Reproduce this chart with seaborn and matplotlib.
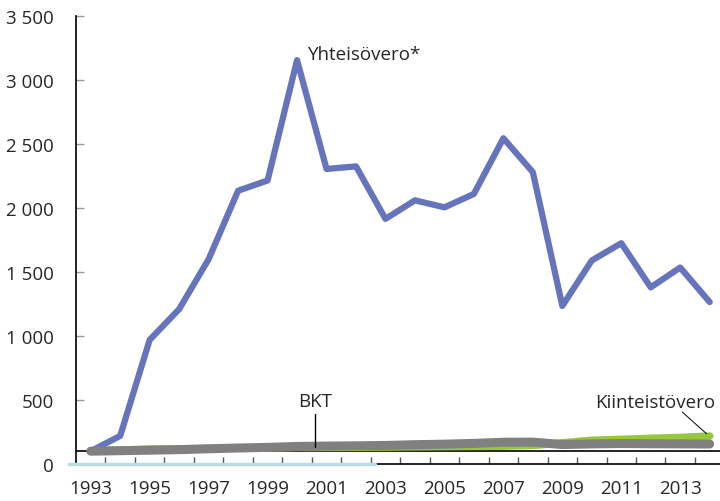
import numpy as np
import pandas as pd
import matplotlib.pyplot as plt
import seaborn as sns

years = list(range(1993, 2015))
yhteisovero = [100, 220, 970, 1210, 1600, 2135, 2215, 3155, 2305, 2325, 1915, 2060,
               2005, 2110, 2545, 2280, 1235, 1590, 1725, 1380, 1535, 1265]
bkt = [100, 104, 108, 112, 119, 125, 130, 137, 140, 142, 145, 151,
       155, 161, 170, 171, 152, 157, 160, 158, 157, 156]
kiinteistovero = [100, 108, 116, 118, 121, 124, 127, 130, 130, 131, 133, 135,
                  137, 138, 140, 145, 165, 185, 192, 200, 207, 218]

df = pd.DataFrame({'vuosi': years, 'Yhteisövero': yhteisovero,
                   'BKT': bkt, 'Kiinteistövero': kiinteistovero})

sns.set_style('white')
plt.rcParams['font.family'] = ['Open Sans', 'DejaVu Sans']
fs = 13.5

fig = plt.figure(figsize=(7.2, 5.02), dpi=100)
ax = fig.add_axes([76 / 720, 1 - 465 / 502, 1 - 76 / 720, (465 - 17) / 502])

sns.lineplot(x='vuosi', y='Yhteisövero', data=df, ax=ax, color='#6674bb', lw=4.5)
sns.lineplot(x='vuosi', y='Kiinteistövero', data=df, ax=ax, color='#97c83b', lw=5.5)
sns.lineplot(x='vuosi', y='BKT', data=df, ax=ax, color='#808080', lw=6.5,
             solid_capstyle='round')

ax.set_xlim(1992.5, 2014.35)
ax.set_ylim(0, 3500)
ax.set_xlabel('')
ax.set_ylabel('')

# index 100 line
ax.axhline(100, color='black', lw=1.2, zorder=1)

# y axis
ax.set_yticks(np.arange(0, 3501, 500))
ax.set_yticklabels([f'{v:,}'.replace(',', ' ') for v in range(0, 3501, 500)], fontsize=fs)
ax.tick_params(axis='y', direction='in', length=6, width=1, color='#999999', pad=16,
               left=True)

# x axis: labels every 2 years, tick marks between years
ax.set_xticks(years[::2])
ax.set_xticklabels([str(y) for y in years[::2]], fontsize=fs)
ax.set_xticks(np.arange(1993.5, 2014, 1), minor=True)
ax.tick_params(axis='x', which='major', length=0, pad=11)
ax.tick_params(axis='x', which='minor', direction='in', length=5, width=1,
               color='#555555', bottom=True)

for s in ['top', 'right']:
    ax.spines[s].set_visible(False)
ax.spines['left'].set_color('black')
ax.spines['left'].set_linewidth(1.2)
ax.spines['bottom'].set_color('black')
ax.spines['bottom'].set_linewidth(1.2)
ax.plot([1992.26, 2002.65], [0, 0], color='#b9dde0', lw=2.5, clip_on=False, zorder=5)

# labels
ax.text(2000.36, 3200, 'Yhteisövero*', fontsize=fs, ha='left', va='center')
ax.text(2000.6, 492, 'BKT', fontsize=fs, ha='center', va='center')
ax.plot([2000.6, 2000.6], [390, 130], color='black', lw=1)
ax.text(2012.15, 485, 'Kiinteistövero', fontsize=fs, ha='center', va='center')
ax.plot([2013.07, 2013.9], [406, 235], color='black', lw=0.7)

fig.savefig('out.png', dpi=100)
